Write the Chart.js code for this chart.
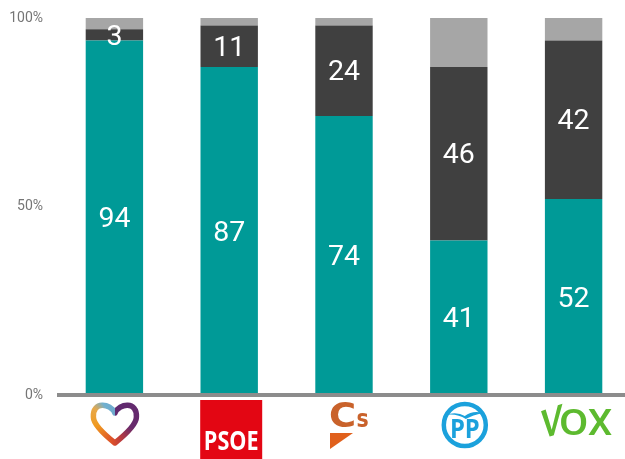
<!DOCTYPE html>
<html><head><meta charset="utf-8">
<style>html,body{margin:0;padding:0;background:#fff;overflow:hidden;width:625px;height:459px}canvas{display:block}</style>
<script src="https://cdn.jsdelivr.net/npm/chart.js@4"></script>
</head><body><canvas id="c" width="631" height="459" style="width:631px;height:459px"></canvas>
<script>
const categories = ["Podemos", "PSOE", "Cs", "PP", "VOX"];
const seriesA = [94, 87, 74, 41, 52];
const seriesB = [3, 11, 24, 46, 42];
const seriesC = [3, 2, 2, 13, 6];
const yTicks = [0, 50, 100];

const logoDrawers = {
  Podemos(ctx, cx) {
    const g = ctx.createConicGradient(-Math.PI / 2, cx + 0.5, 422);
    g.addColorStop(0, '#5f2a70');
    g.addColorStop(0.3, '#682a6c');
    g.addColorStop(0.44, '#b83a40');
    g.addColorStop(0.52, '#dc4f2a');
    g.addColorStop(0.72, '#f09a20');
    g.addColorStop(0.84, '#e8a848');
    g.addColorStop(0.91, '#6fb0d0');
    g.addColorStop(1, '#6fa8cc');
    ctx.lineWidth = 5.5; ctx.lineJoin = 'round'; ctx.lineCap = 'round';
    ctx.strokeStyle = g;
    ctx.beginPath();
    ctx.moveTo(cx + 0.5, 413);
    ctx.bezierCurveTo(cx - 4, 403, cx - 22, 401, cx - 21, 417);
    ctx.bezierCurveTo(cx - 21, 425, cx - 7, 437, cx + 0.5, 443);
    ctx.bezierCurveTo(cx + 8, 437, cx + 22, 425, cx + 22, 417);
    ctx.bezierCurveTo(cx + 23, 401, cx + 5, 403, cx + 0.5, 413);
    ctx.stroke();
  },
  PSOE(ctx, cx) {
    ctx.fillStyle = '#e30613';
    ctx.fillRect(cx - 29, 400, 62, 59);
    ctx.save();
    ctx.translate(cx + 2, 449.5);
    ctx.scale(0.83, 1);
    ctx.fillStyle = '#fff';
    ctx.font = 'bold 26px "Open Sans"';
    ctx.textAlign = 'center'; ctx.textBaseline = 'alphabetic';
    ctx.fillText('PSOE', 0, 0);
    ctx.restore();
  },
  Cs(ctx, cx) {
    ctx.fillStyle = '#c9622b';
    ctx.textAlign = 'left'; ctx.textBaseline = 'alphabetic';
    ctx.save();
    ctx.translate(cx - 15, 427);
    ctx.scale(1.12, 1);
    ctx.font = 'bold 33px "DejaVu Sans"';
    ctx.fillText('C', 0, 0);
    ctx.restore();
    ctx.save();
    ctx.translate(cx + 12.5, 427);
    ctx.scale(0.82, 1);
    ctx.font = 'bold 25px "DejaVu Sans"';
    ctx.fillText('s', 0, 0);
    ctx.restore();
    ctx.fillStyle = '#e0601c';
    ctx.beginPath();
    ctx.moveTo(cx - 14, 433); ctx.lineTo(cx + 9, 433); ctx.lineTo(cx - 14, 449);
    ctx.closePath(); ctx.fill();
  },
  PP(ctx, cx) {
    const x = cx + 6, y = 425;
    ctx.strokeStyle = '#1ba1dc'; ctx.lineWidth = 4.5;
    ctx.beginPath(); ctx.arc(x, y, 21, 0, Math.PI * 2); ctx.stroke();
    ctx.fillStyle = '#1ba1dc';
    ctx.beginPath();
    ctx.moveTo(x - 20, y - 10);
    ctx.quadraticCurveTo(x - 8, y - 14, x, y - 9);
    ctx.quadraticCurveTo(x + 8, y - 15, x + 18, y - 12);
    ctx.quadraticCurveTo(x + 8, y - 10, x + 1, y - 6);
    ctx.quadraticCurveTo(x - 8, y - 12, x - 20, y - 10);
    ctx.fill();
    ctx.font = 'bold 27px "Open Sans"';
    ctx.textAlign = 'center'; ctx.textBaseline = 'alphabetic';
    ctx.save();
    ctx.translate(x, y + 12.5);
    ctx.scale(0.88, 1);
    ctx.fillText('PP', 0, 0);
    ctx.restore();
  },
  VOX(ctx, cx) {
    ctx.fillStyle = '#5dba2f';
    ctx.textBaseline = 'alphabetic'; ctx.textAlign = 'center';
    ctx.font = '500 36px Roboto';
    ctx.save();
    ctx.translate(cx + 0, 435);
    ctx.scale(1.18, 1);
    ctx.fillText('O', 0, 0);
    ctx.restore();
    ctx.save();
    ctx.translate(cx + 26.5, 435);
    ctx.scale(1.08, 1);
    ctx.fillText('X', 0, 0);
    ctx.restore();
    ctx.save();
    ctx.translate(cx - 22, 436);
    ctx.transform(0.85, -0.3, 0, 1, 0, 0);
    ctx.font = '500 40px Roboto';
    ctx.fillText('V', 0, 0);
    ctx.restore();
  }
};

const logosAndLabels = {
  id: 'logosAndLabels',
  afterDraw(chart) {
    const ctx = chart.ctx;
    const xs = chart.scales.x;
    const area = chart.chartArea;
    ctx.save();
    ctx.fillStyle = '#8c8c8c';
    ctx.fillRect(area.left, area.bottom - 2, area.right - area.left, 4);
    categories.forEach((name, i) => {
      ctx.save();
      logoDrawers[name](ctx, xs.getPixelForValue(i));
      ctx.restore();
    });
    ctx.fillStyle = '#fff';
    ctx.font = '28.5px Roboto';
    ctx.textAlign = 'center'; ctx.textBaseline = 'middle';
    [0, 1].forEach(d => {
      const meta = chart.getDatasetMeta(d);
      meta.data.forEach((bar, i) => {
        const p = bar.getProps(['x', 'y', 'base'], true);
        ctx.fillText(String(chart.data.datasets[d].data[i]), p.x, (p.y + p.base) / 2 + 2.5);
      });
    });
    ctx.restore();
  }
};

new Chart(document.getElementById('c'), {
  type: 'bar',
  data: {
    labels: categories,
    datasets: [
      { data: seriesA, backgroundColor: '#009a97' },
      { data: seriesB, backgroundColor: '#404040' },
      { data: seriesC, backgroundColor: '#a6a6a6' }
    ]
  },
  options: {
    responsive: false,
    animation: false,
    devicePixelRatio: 1,
    layout: { padding: { top: 18, left: 0, right: 0, bottom: 0 } },
    plugins: { legend: { display: false }, tooltip: { enabled: false } },
    datasets: { bar: { categoryPercentage: 1, barPercentage: 0.5 } },
    scales: {
      x: {
        stacked: true,
        grid: { display: false, drawTicks: false },
        border: { display: false },
        ticks: { display: false },
        afterFit(s) { s.height = 64; s.paddingLeft = 0; s.paddingRight = 0; }
      },
      y: {
        stacked: true,
        min: 0, max: 100,
        afterBuildTicks(s) { s.ticks = yTicks.map(v => ({ value: v })); },
        grid: { display: false, drawTicks: false },
        border: { display: false },
        ticks: {
          padding: 14,
          color: '#757575',
          font: { family: 'Roboto', size: 14 },
          callback: v => v + '%'
        },
        afterFit(s) { s.width = 57; s.paddingTop = 0; s.paddingBottom = 0; }
      }
    }
  },
  plugins: [logosAndLabels]
});
</script></body></html>
